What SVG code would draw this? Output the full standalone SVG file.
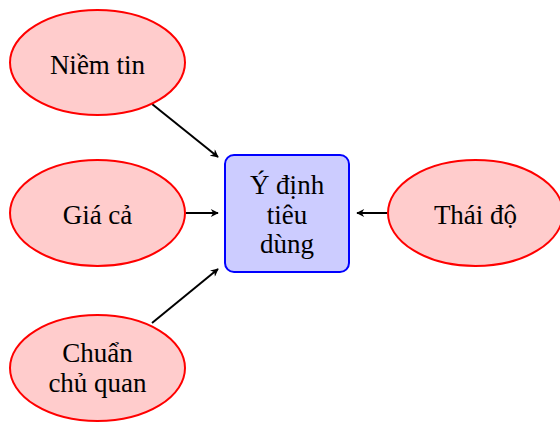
<svg xmlns="http://www.w3.org/2000/svg" width="560" height="424" viewBox="0 0 560 424">
<style>
.ell{fill:#ffcccc;stroke:#ff0000;stroke-width:2}
.box{fill:#ccccff;stroke:#0000ff;stroke-width:2}
.lbl{font-family:"Liberation Serif","DejaVu Serif",serif;font-size:27px;fill:#000;text-anchor:middle}
.con{stroke:#000;stroke-width:2;fill:none;marker-end:url(#ah)}
</style>
<defs>
<marker id="ah" viewBox="0 0 10 10" refX="9" refY="5" markerWidth="9" markerHeight="8" markerUnits="userSpaceOnUse" orient="auto">
<path d="M0,0 L10,5 L0,10 L3,5 Z" fill="#000"/>
</marker>
</defs>
<g id="connectors">
<line class="con" x1="152" y1="104" x2="218" y2="157"/>
<line class="con" x1="186" y1="213" x2="218" y2="213"/>
<line class="con" x1="152" y1="323" x2="218" y2="269"/>
<line class="con" x1="387" y1="213" x2="357" y2="213"/>
</g>
<g id="niem-tin">
<ellipse class="ell" cx="97.5" cy="62.5" rx="87.5" ry="52.5"/>
<text class="lbl" x="97.5" y="74">Niềm tin</text>
</g>
<g id="gia-ca">
<ellipse class="ell" cx="97.5" cy="213" rx="87.5" ry="53"/>
<text class="lbl" x="97.5" y="224">Giá cả</text>
</g>
<g id="chuan-chu-quan">
<ellipse class="ell" cx="97.5" cy="368" rx="87.5" ry="53"/>
<text class="lbl" x="97.5" y="362">Chuẩn</text>
<text class="lbl" x="97.5" y="392">chủ quan</text>
</g>
<g id="thai-do">
<ellipse class="ell" cx="475.5" cy="213" rx="87.5" ry="53"/>
<text class="lbl" x="475.5" y="224">Thái độ</text>
</g>
<g id="y-dinh">
<rect class="box" x="225" y="155" width="124" height="117" rx="9"/>
<text class="lbl" x="287" y="194">Ý định</text>
<text class="lbl" x="287" y="224">tiêu</text>
<text class="lbl" x="287" y="253">dùng</text>
</g>
</svg>
